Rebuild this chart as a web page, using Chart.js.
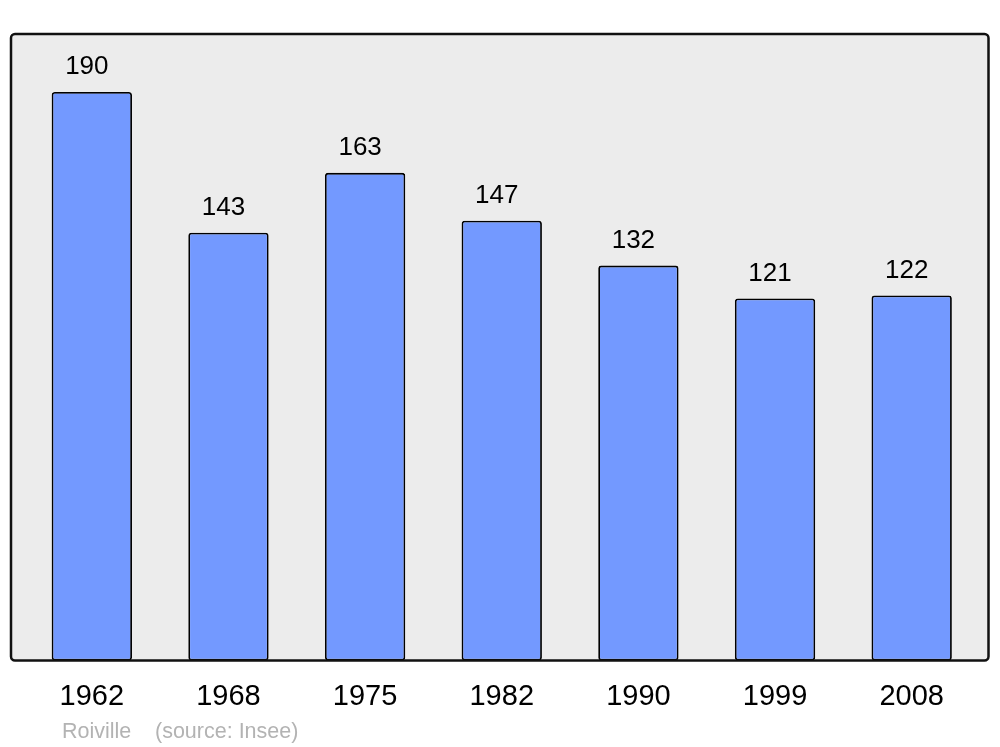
<!DOCTYPE html>
<html>
<head>
<meta charset="utf-8">
<script src="https://cdn.jsdelivr.net/npm/chart.js@4"></script>
<style>
  html, body { margin: 0; padding: 0; background: #fff; }
  #wrap { width: 1000px; height: 747px; }
</style>
</head>
<body>
<div id="wrap"><canvas id="popChart" width="1000" height="747"></canvas></div>
<script>
const years = ['1962', '1968', '1975', '1982', '1990', '1999', '2008'];
const population = [190, 143, 163, 147, 132, 121, 122];
const placeName = 'Roiville';
const sourceText = '(source: Insee)';

// grey frame behind the bars, value labels above them, footer text
const framePlugin = {
    id: 'frame',
    beforeDraw(chart) {
        const { ctx, chartArea } = chart;
        const x = chartArea.left - 12.5, y = chartArea.top;
        const w = chartArea.right + 8.5 - x, h = chartArea.bottom - y;
        ctx.save();
        ctx.beginPath();
        ctx.roundRect(x, y, w, h, 4);
        ctx.fillStyle = '#ececec';
        ctx.fill();
        ctx.restore();
    },
    afterDatasetsDraw(chart) {
        const { ctx, chartArea } = chart;
        const x = chartArea.left - 12.5, y = chartArea.top;
        const w = chartArea.right + 8.5 - x, h = chartArea.bottom - y;
        ctx.save();
        ctx.beginPath();
        ctx.roundRect(x, y, w, h, 4);
        ctx.lineWidth = 2.5;
        ctx.strokeStyle = '#111';
        ctx.stroke();

        ctx.fillStyle = '#000';
        ctx.font = '26px "Liberation Sans", Arial, sans-serif';
        ctx.textAlign = 'center';
        ctx.textBaseline = 'alphabetic';
        chart.getDatasetMeta(0).data.forEach((bar, i) => {
            ctx.fillText(String(population[i]), bar.x - 5, bar.y - 18);
        });

        ctx.fillStyle = '#b3b3b3';
        ctx.font = '21.5px "Liberation Sans", Arial, sans-serif';
        ctx.textAlign = 'left';
        ctx.fillText(placeName, 62, 738);
        ctx.fillText(sourceText, 155, 738);
        ctx.restore();
    }
};

const ctx = document.getElementById('popChart').getContext('2d');
new Chart(ctx, {
    type: 'bar',
    data: {
        labels: years,
        datasets: [{
            data: population,
            backgroundColor: '#7399ff',
            borderColor: '#000',
            borderWidth: 1.8,
            borderSkipped: false,
            borderRadius: 3,
            barPercentage: 0.8,
            categoryPercentage: 0.735
        }]
    },
    options: {
        responsive: false,
        animation: false,
        layout: { padding: { left: 23.5, right: 20, top: 34, bottom: 13.6 } },
        plugins: {
            legend: { display: false },
            tooltip: { enabled: false }
        },
        scales: {
            x: {
                grid: { display: false, drawTicks: false },
                border: { display: false },
                ticks: {
                    color: '#000',
                    padding: 19,
                    font: { family: '"Liberation Sans", Arial, sans-serif', size: 29 }
                }
            },
            y: {
                display: false,
                min: 0,
                max: 209.4
            }
        }
    },
    plugins: [framePlugin]
});
</script>
</body>
</html>
